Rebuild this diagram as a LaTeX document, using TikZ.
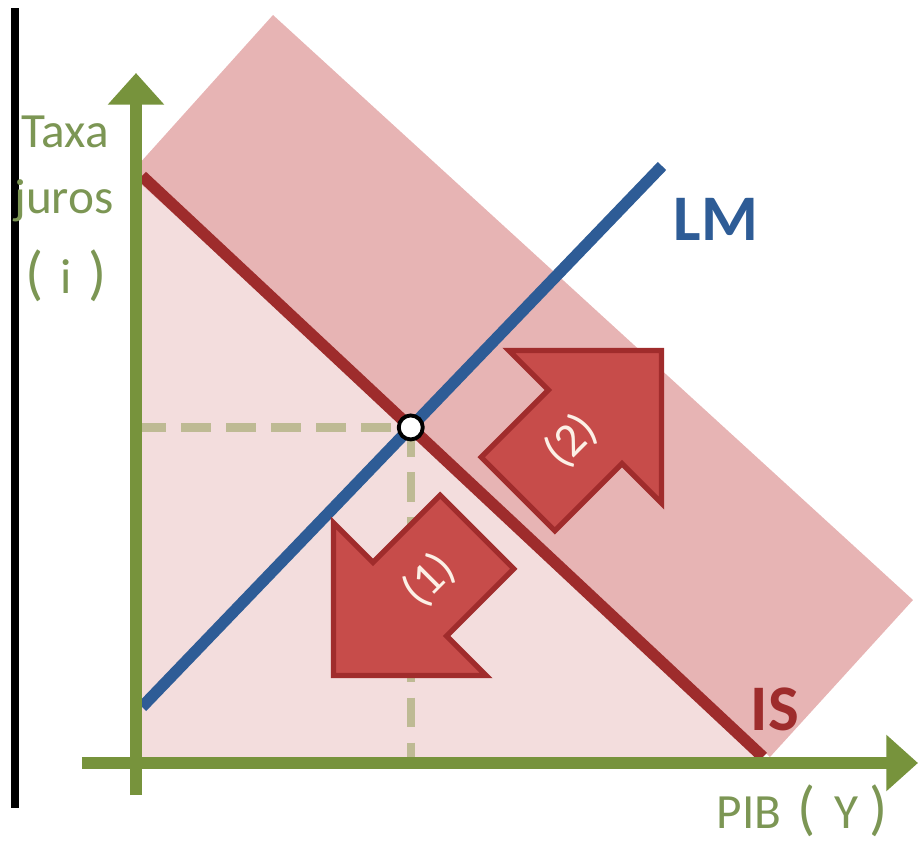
\documentclass[tikz,border=0pt]{standalone}
\usepackage{fontspec}
\setmainfont{Carlito}
\usetikzlibrary{arrows.meta}
\definecolor{axisgreen}{RGB}{119,147,60}
\definecolor{labelgreen}{RGB}{124,150,84}
\definecolor{lmblue}{RGB}{46,92,150}
\definecolor{isred}{RGB}{158,44,44}
\definecolor{bandpink}{RGB}{231,180,180}
\definecolor{areapink}{RGB}{243,221,221}
\definecolor{shiftfill}{RGB}{199,76,74}
\definecolor{shiftedge}{RGB}{160,44,44}
\definecolor{shifttext}{RGB}{252,240,230}
\definecolor{guide}{RGB}{190,186,148}
\newcommand{\tallparen}[1]{{\fontsize{17}{17}\selectfont #1}}
\tikzset{
    axis/.style={draw=axisgreen, line width=3.4pt,
                 -{Triangle[length=9pt,width=15.5pt]}},
    curve/.style={line width=3.3pt},
    guideline/.style={draw=guide, line width=2.3pt,
                      dash pattern=on 8.5pt off 4.3pt},
    axislabel/.style={text=labelgreen, font=\fontsize{14}{16}\selectfont,
                      inner sep=0pt, anchor=base},
    curvelabel/.style={font=\fontsize{18.5}{20}\selectfont\bfseries,
                       inner sep=0pt, anchor=base},
    shiftarrow/.style={draw=shiftedge, fill=shiftfill, line width=1.5pt},
    shiftnote/.style={text=shifttext, font=\fontsize{13.5}{14}\selectfont,
                      inner sep=0pt},
    eqpoint/.style={circle, draw=black, fill=white, line width=1.1pt,
                    minimum size=0.24cm, inner sep=0pt},
}

\begin{document}
\begin{tikzpicture}[x=0.01cm, y=-0.01cm]
    \useasboundingbox (0,0) rectangle (920,842);

    % axes ends and curve ends
    \coordinate (ytop) at (136,73);
    \coordinate (ybot) at (136,795);
    \coordinate (xleft) at (82,763);
    \coordinate (xright) at (918,763);
    \coordinate (is1) at (142,176);
    \coordinate (is2) at (763,757);
    \coordinate (lm1) at (142,707);
    \coordinate (lm2) at (662,166);
    \coordinate (eq) at (intersection of is1--is2 and lm1--lm2);

    % shaded areas
    \fill[areapink] (is1) -- (142,757) -- (is2) -- cycle;
    \fill[bandpink] (273,15) -- (913,600) -- (770,757) -- (130,174) -- cycle;

    % guides to the axes
    \draw[guideline] (eq -| ybot) -- (eq);
    \draw[guideline] (eq) -- (eq |- xleft);

    % curves
    \draw[curve, lmblue] (lm1) -- (lm2);
    \draw[curve, isred] (is1) -- (is2);
    \node[eqpoint] (eqdot) at (eq) {};

    % shifts
    \begin{scope}[shift={(477,532)}, rotate=-135]
        \draw[shiftarrow] (0,-52) -- (95,-52) -- (95,-108) -- (203,0)
            -- (95,108) -- (95,52) -- (0,52) -- cycle;
        \node[shiftnote, rotate=45] (down) at (68,0) {(1)};
    \end{scope}
    \begin{scope}[shift={(518,494)}, rotate=45]
        \draw[shiftarrow] (0,-52) -- (95,-52) -- (95,-108) -- (203,0)
            -- (95,108) -- (95,52) -- (0,52) -- cycle;
        \node[shiftnote, rotate=45] (up) at (75,0) {(2)};
    \end{scope}

    % axes
    \draw[line width=2.3pt] (15,8) -- (15,808);
    \draw[axis] (ybot) -- (ytop);
    \draw[axis] (xleft) -- (xright);

    % labels
    \node[axislabel] (taxa) at (65,147) {Taxa};
    \node[axislabel] (juros) at (64,213) {juros};
    \node[axislabel] (rate) at (66,293)
        {\tallparen{(}\hspace{1.5pt} i \hspace{1.5pt}\tallparen{)}};
    \node[axislabel] (gdp) at (802,828)
        {PIB \hspace{1.5pt}\tallparen{(}\hspace{2pt} Y \tallparen{)}};
    \node[curvelabel, text=lmblue] (lmlabel) at (716,240) {LM};
    \node[curvelabel, text=isred] (islabel) at (775,730) {IS};

\end{tikzpicture}
\end{document}
